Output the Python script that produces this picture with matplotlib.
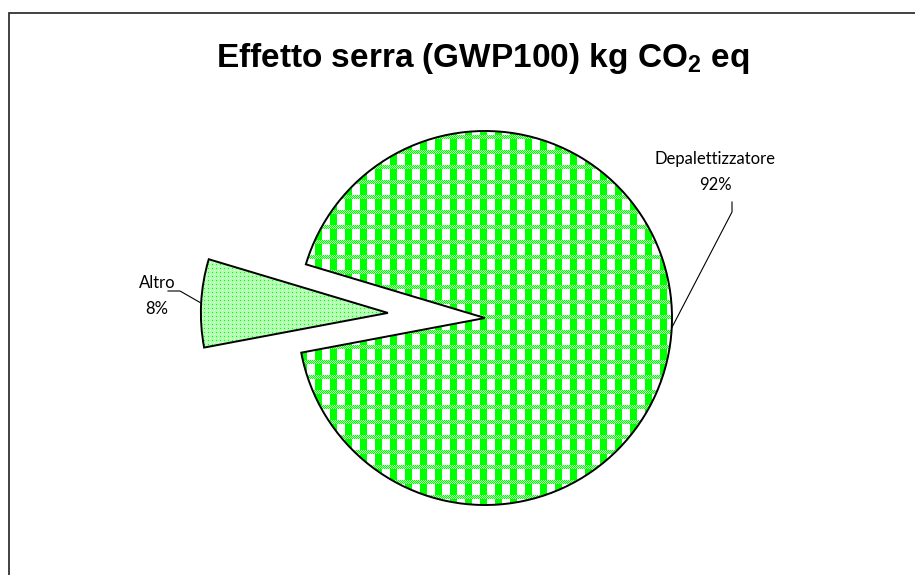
import numpy as np
import matplotlib
matplotlib.use("Agg")
import matplotlib.pyplot as plt
from matplotlib.patches import Rectangle

# Data
categories = ["Depalettizzatore", "Altro"]
values = [92.4, 7.6]
explode = [0.0, 0.52]
title = r"Effetto serra (GWP100) kg CO$_\mathbf{2}$ eq"

plt.rcParams["mathtext.fontset"] = "custom"
plt.rcParams["mathtext.rm"] = "Liberation Sans"
plt.rcParams["mathtext.bf"] = "Liberation Sans:bold"

W, H, DPI = 915, 575, 100
fig = plt.figure(figsize=(W / DPI, H / DPI), dpi=DPI)
fig.patch.set_facecolor("white")

# Axes covering the whole figure; one data unit equals the pie radius
R = 187.0
cx, cy = 485.0, 318.0
ax = fig.add_axes([0, 0, 1, 1])
xlim = (-cx / R, (W - cx) / R)
ylim = (-(H - cy) / R, cy / R)


def to_data(px, py):
    return (px - cx) / R, (cy - py) / R


# Fill textures at pixel resolution
yy, xx = np.mgrid[0:H, 0:W]
green = np.array([0, 255, 0], dtype=np.uint8)
pale = np.array([190, 255, 190], dtype=np.uint8)
white = np.array([255, 255, 255], dtype=np.uint8)

check = np.empty((H, W, 3), dtype=np.uint8)
check[:] = white
px_, py_ = xx % 15, yy % 15
band = py_ < 4
dither = (xx + yy) % 2 == 0
check[(~band) & (px_ < 7)] = green
check[band & dither] = green
check[band & ~dither] = pale

dots = np.empty((H, W, 3), dtype=np.uint8)
dots[:] = np.array([175, 255, 175], dtype=np.uint8)
dots[(xx % 4 == 2) & (yy % 4 == 2)] = white
dots[(xx % 4 == 0) & (yy % 4 == 0)] = green

total = sum(values)
mid_small = 177.0
startangle = mid_small + 360 * values[1] / total / 2
wedges, _ = ax.pie(values, explode=explode, startangle=startangle,
                   counterclock=True, radius=1.0, center=(0, 0),
                   wedgeprops=dict(facecolor="none", edgecolor="black",
                                   linewidth=1.4, zorder=3))

extent = (xlim[0], xlim[1], ylim[0], ylim[1])
for wedge, tex in zip(wedges, [check, dots]):
    im = ax.imshow(tex, extent=extent, origin="upper",
                   interpolation="nearest", zorder=1)
    im.set_clip_path(wedge)

# Labels with leader lines
label_font = dict(family="Lato", fontsize=12, color="black")
label_pos = {"Depalettizzatore": (715, 172), "Altro": (157, 296)}
elbows = {"Depalettizzatore": [(732, 202), (732, 212)],
          "Altro": [(168, 291), (180, 291)]}
for cat, val, wedge in zip(categories, values, wedges):
    pct = f"{val / total:.0%}"
    lx, ly = to_data(*label_pos[cat])
    ax.text(lx, ly, f"{cat}\n{pct}", ha="center", va="center",
            linespacing=1.75, **label_font)
    mid = np.deg2rad((wedge.theta1 + wedge.theta2) / 2)
    ox, oy = wedge.center
    ex, ey = ox + wedge.r * np.cos(mid), oy + wedge.r * np.sin(mid)
    pts = [to_data(*p) for p in elbows[cat]] + [(ex, ey)]
    ax.plot([p[0] for p in pts], [p[1] for p in pts], color="black",
            lw=0.8, zorder=4)

tx, ty = to_data(483, 58)
ax.text(tx, ty, title, ha="center", va="center", fontsize=24,
        fontweight="bold", family="Liberation Sans")

ax.set_aspect("auto")
ax.set_xlim(*xlim)
ax.set_ylim(*ylim)
ax.axis("off")

# Chart area frame
fig.add_artist(Rectangle((8.5 / W, -0.2), 2, (H - 12.5) / H + 0.2,
                         transform=fig.transFigure, fill=False,
                         edgecolor="#333333", linewidth=1.3))

fig.savefig("out.png", dpi=DPI)
